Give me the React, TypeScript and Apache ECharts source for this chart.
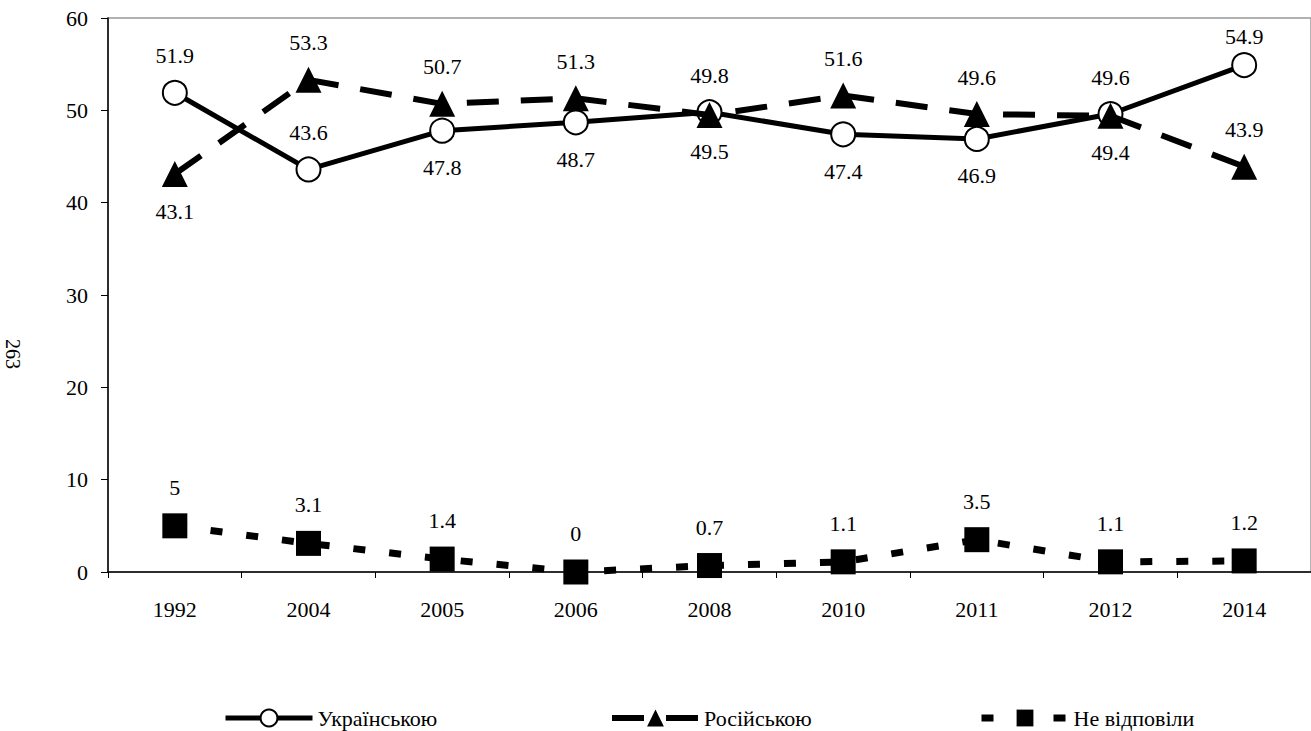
import React, { useEffect, useRef } from "react";
import * as echarts from "echarts";

const categories = ["1992", "2004", "2005", "2006", "2008", "2010", "2011", "2012", "2014"];
const ukrValues = [51.9, 43.6, 47.8, 48.7, 49.8, 47.4, 46.9, 49.6, 54.9];
const rusValues = [43.1, 53.3, 50.7, 51.3, 49.5, 51.6, 49.6, 49.4, 43.9];
const noneValues = [5, 3.1, 1.4, 0, 0.7, 1.1, 3.5, 1.1, 1.2];
const ukrLabelPos = ["top", "top", "bottom", "bottom", "top", "bottom", "bottom", "top", "top"];
const rusLabelPos = ["bottom", "top", "top", "top", "bottom", "top", "top", "bottom", "top"];
const seriesNames = ["Українською", "Російською", "Не відповіли"];
const pageNumber = "263";

const FONT = "serif";
const FS = 22;

export default function App() {
  const ref = useRef<HTMLDivElement>(null);
  useEffect(() => {
    if (!ref.current) return;
    const chart = echarts.init(ref.current, undefined, { renderer: "svg" });
    const labelBase = {
      show: true,
      color: "#000",
      fontFamily: FONT,
      fontSize: FS,
      distance: 13,
    };
    const ukrData = ukrValues.map((v, i) => ({
      value: v,
      label: { position: ukrLabelPos[i], offset: i === 8 ? [0, 8] : [0, 0] },
    }));
    const rusData = rusValues.map((v, i) => ({
      value: v,
      label: { position: rusLabelPos[i] },
    }));
    const legendText = { fontFamily: FONT, fontSize: FS, color: "#000" };
    const legendBase = {
      top: 707,
      padding: 0,
      itemWidth: 87,
      itemHeight: 21,
      textStyle: legendText,
    };
    chart.setOption({
      animation: false,
      textStyle: { fontFamily: FONT },
      grid: {
        left: 108,
        top: 18,
        width: 1210.5,
        height: 554,
        show: true,
        borderColor: "#999",
        borderWidth: 1.5,
      },
      xAxis: {
        type: "category",
        data: categories,
        boundaryGap: true,
        axisLine: { lineStyle: { color: "#000", width: 1.5 } },
        axisTick: { show: true, length: 6, lineStyle: { color: "#000" } },
        axisLabel: { color: "#000", fontFamily: FONT, fontSize: FS, margin: 26 },
        splitLine: { show: false },
      },
      yAxis: {
        type: "value",
        min: 0,
        max: 60,
        interval: 10,
        axisLine: { show: true, lineStyle: { color: "#000", width: 1.5 } },
        axisTick: { show: true, length: 7, lineStyle: { color: "#000" } },
        axisLabel: { color: "#000", fontFamily: FONT, fontSize: FS, margin: 20 },
        splitLine: { show: false },
      },
      legend: [
        {
          ...legendBase,
          left: 223,
          data: [seriesNames[0]],
          lineStyle: { width: 5 },
          itemStyle: { borderWidth: 2 },
        },
        {
          ...legendBase,
          left: 609,
          data: [seriesNames[1]],
          lineStyle: { width: 6 },
        },
        {
          ...legendBase,
          left: 978,
          data: [seriesNames[2]],
          lineStyle: { width: 7 },
        },
      ],
      graphic: [
        {
          type: "text",
          x: 13,
          y: 354,
          rotation: -Math.PI / 2,
          style: {
            text: pageNumber,
            fontFamily: FONT,
            fontSize: 20,
            fill: "#000",
            align: "center",
            verticalAlign: "middle",
          },
        },
      ],
      series: [
        {
          name: seriesNames[0],
          type: "line",
          data: ukrData,
          symbol: "circle",
          symbolSize: 24,
          lineStyle: { color: "#000", width: 5, cap: "butt" },
          itemStyle: { color: "#fff", borderColor: "#000", borderWidth: 2 },
          label: { ...labelBase, position: "top" },
          z: 2,
        },
        {
          name: seriesNames[1],
          type: "line",
          data: rusData,
          symbol: "triangle",
          symbolSize: 26,
          lineStyle: { color: "#000", width: 6, type: [32, 22], cap: "butt" },
          itemStyle: { color: "#000", borderColor: "#000", borderWidth: 0 },
          label: { ...labelBase, position: "top" },
          z: 3,
        },
        {
          name: seriesNames[2],
          type: "line",
          data: noneValues,
          symbol: "rect",
          symbolSize: 25,
          lineStyle: { color: "#000", width: 7, type: [12, 24], cap: "butt" },
          itemStyle: { color: "#000", borderColor: "#000", borderWidth: 0 },
          label: { ...labelBase, position: "top", distance: 15 },
          z: 4,
        },
      ],
    });
    return () => chart.dispose();
  }, []);
  return (
    <div
      ref={ref}
      style={{ position: "fixed", left: 0, top: 0, width: 1311, height: 731, background: "#fff" }}
    />
  );
}
